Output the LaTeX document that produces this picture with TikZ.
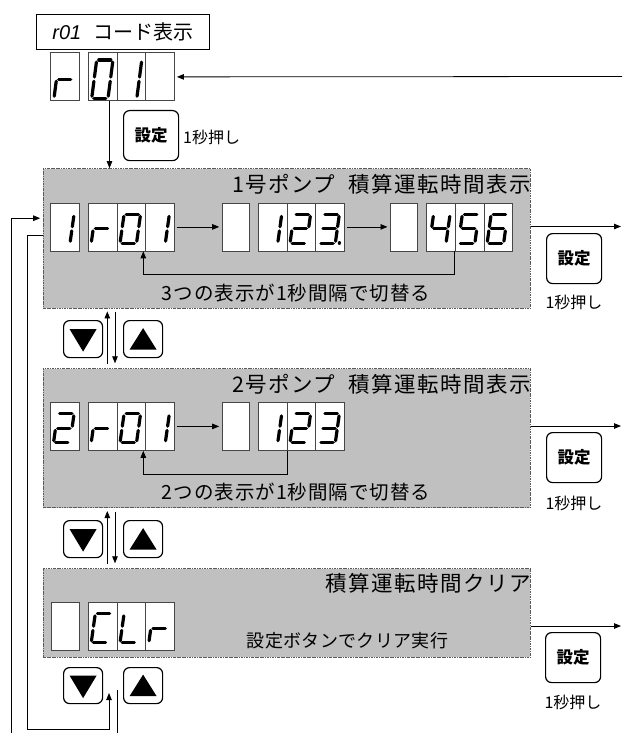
\documentclass[tikz,border=0pt]{standalone}
\usepackage{fontspec}
\setmainfont{Noto Sans CJK JP}
\newfontfamily\lat{Liberation Sans}
\usetikzlibrary{arrows.meta}

\definecolor{panelgray}{RGB}{192,192,192}
\definecolor{cellborder}{RGB}{70,70,70}
\definecolor{panelborder}{RGB}{90,90,90}

\tikzset{
  panel/.style={draw=panelborder, fill=panelgray, line width=0.7pt, dash pattern=on 2.5pt off 1pt on 0.7pt off 1pt, anchor=north west, inner sep=0pt, minimum width=487.3pt},
  cellbox/.style={draw=cellborder, fill=white, line width=0.8pt, anchor=north west, minimum width=28.8pt, minimum height=48pt, inner sep=0pt},
  blankbox/.style={cellbox, minimum width=26.8pt},
  segline/.style={line width=3.2pt, line cap=round, line join=round},
  arr/.style={-{Triangle[length=7pt,width=5.5pt]}, line width=0.8pt},
  plainline/.style={line width=0.8pt},
  keybtn/.style={draw, line width=1.2pt, rounded corners=6pt, anchor=north west, inner sep=0pt, fill=white, minimum width=39pt, minimum height=37pt},
  setbtn/.style={draw, line width=1.2pt, rounded corners=6pt, anchor=north west, inner sep=0pt, fill=white, minimum width=55pt, minimum height=50pt, font=\fontsize{16.5}{18}\selectfont\bfseries},
  title/.style={anchor=east, inner sep=0pt, font=\fontsize{21.5}{24}\selectfont\addfontfeature{LetterSpace=7}},
  note/.style={inner sep=0pt, font=\fontsize{19.5}{22}\selectfont\addfontfeature{LetterSpace=5}},
  small/.style={inner sep=0pt, font=\fontsize{16}{18}\selectfont},
  sgA/.style={insert path={(\sg,\sh)--({\sw-\sg},\sh)}},
  sgB/.style={insert path={(\sw,{\sh-\sg})--(\sw,{\sh/2+\sg})}},
  sgC/.style={insert path={(\sw,{\sh/2-\sg})--(\sw,\sg)}},
  sgD/.style={insert path={(\sg,0)--({\sw-\sg},0)}},
  sgE/.style={insert path={(0,\sg)--(0,{\sh/2-\sg})}},
  sgF/.style={insert path={(0,{\sh/2+\sg})--(0,{\sh-\sg})}},
  sgG/.style={insert path={(\sg,{\sh/2})--({\sw-\sg},{\sh/2})}},
  sgP/.style={insert path={({\sw+4},0.3) circle[radius=0.3]}},
}

\newcommand\segdigit[5]{%
  \begin{scope}[shift={#1}, xslant=#4, x=1pt, y=1pt]
    \def\sw{#2}\def\sh{#3}\def\sg{2.1}
    \foreach \s in {#5}{\edef\segtmp{\noexpand\draw[segline, sg\s];}\segtmp}
  \end{scope}}
\newcommand\bigdig[2]{\segdigit{([shift={(4,-3)}]#1.south west)}{16.3}{38.3}{0.13}{#2}}
\newcommand\smalldig[2]{\segdigit{([shift={(3.5,-8)}]#1.south west)}{16.5}{29}{0.14}{#2}}
\newcommand\downtri[1]{\fill ([shift={(-13.5,-10)}]#1.center) -- ([shift={(13.5,-10)}]#1.center) -- ([shift={(0,12.5)}]#1.center) -- cycle;}
\newcommand\uptri[1]{\fill ([shift={(-13.5,10.5)}]#1.center) -- ([shift={(13.5,10.5)}]#1.center) -- ([shift={(0,-11)}]#1.center) -- cycle;}

\begin{document}
\begin{tikzpicture}[x=1pt, y=-1pt]
\useasboundingbox (0,0) rectangle (622,733);

% ---------- top code display ----------
\node[draw, line width=0.8pt, anchor=north west, minimum width=173pt, minimum height=35pt, inner sep=0pt, font=\fontsize{20}{22}\selectfont] (lbl) at (36,14) {{\lat\itshape r01}\hspace{0.6em}コード表示};

\node[cellbox] (t1) at (50,52.5) {};
\node[cellbox] (t2) at (87.7,52.5) {};
\node[cellbox] (t3) at (116.5,52.5) {};
\node[cellbox] (t4) at (145.3,52.5) {};
\bigdig{t1}{E,G}
\bigdig{t2}{A,B,C,D,E,F}
\bigdig{t3}{B,C}

\coordinate (topin) at (622,76.5);
\draw[arr, shorten >=2pt] (topin) -- (t4.east);

\node[setbtn] (s0) at (123,110) {設定};
\node[small, anchor=west] (s0t) at (183,137) {1秒押し};

% ---------- panel 1 ----------
\node[panel, minimum height=139.5pt] (p1) at (42.7,168.2) {};
\draw[arr] ([xshift=7pt]t2.south) -- ([xshift=7pt]t2.south |- p1.north);
\node[title] (p1t) at (531,184.5) {1号ポンプ\hspace{0.6em}積算運転時間表示};

\node[cellbox] (p1d1) at (50,202.5) {};
\node[cellbox] (p1d2) at (87.7,202.5) {};
\node[cellbox] (p1d3) at (116.5,202.5) {};
\node[cellbox] (p1d4) at (145.3,202.5) {};
\node[blankbox] (p1d5) at (221.7,202.5) {};
\node[cellbox] (p1d6) at (257.7,202.5) {};
\node[cellbox] (p1d7) at (286.5,202.5) {};
\node[cellbox] (p1d8) at (315.3,202.5) {};
\node[blankbox] (p1d9) at (390,202.5) {};
\node[cellbox] (p1d10) at (426,202.5) {};
\node[cellbox] (p1d11) at (454.8,202.5) {};
\node[cellbox] (p1d12) at (483.6,202.5) {};
\smalldig{p1d1}{B,C}
\smalldig{p1d2}{E,G}
\smalldig{p1d3}{A,B,C,D,E,F}
\smalldig{p1d4}{B,C}
\smalldig{p1d6}{B,C}
\smalldig{p1d7}{A,B,G,E,D}
\smalldig{p1d8}{A,B,G,C,D,P}
\smalldig{p1d10}{F,G,B,C}
\smalldig{p1d11}{A,F,G,C,D}
\smalldig{p1d12}{A,F,G,E,C,D}

\draw[arr, shorten <=2.5pt, shorten >=2.5pt] (p1d4.east) -- (p1d5.west);
\draw[arr, shorten <=2.5pt, shorten >=2.5pt] (p1d8.east) -- (p1d9.west);
\draw[arr] (p1d11.south west) -- ++(0,23.5) -| ([xshift=-2pt]p1d4.south west);
\node[note] (p1n) at (296,293) {3つの表示が1秒間隔で切替る};

\coordinate (r1) at (621,226.5);
\draw[arr] (p1.east |- r1) -- (r1);
\node[setbtn] (s1) at (546,233) {設定};
\node[small] (s1t) at (574,302) {1秒押し};

% ---------- keys between 1 and 2 ----------
\node[keybtn] (k1d) at (63,320) {};
\node[keybtn] (k1u) at (123,320) {};
\downtri{k1d}
\uptri{k1u}

% ---------- panel 2 ----------
\node[panel, minimum height=139pt] (p2) at (42.7,368.3) {};
\coordinate (ux) at (107.3,0);
\coordinate (dx) at (115,0);
\draw[arr, shorten <=4pt, shorten >=3pt] (p2.north -| ux) -- (p1.south -| ux);
\draw[arr, shorten <=4pt, shorten >=5pt] (p1.south -| dx) -- (p2.north -| dx);
\node[title] (p2t) at (531,384.5) {2号ポンプ\hspace{0.6em}積算運転時間表示};

\node[cellbox] (p2d1) at (50,402) {};
\node[cellbox] (p2d2) at (87.7,402) {};
\node[cellbox] (p2d3) at (116.5,402) {};
\node[cellbox] (p2d4) at (145.3,402) {};
\node[blankbox] (p2d5) at (221.7,402) {};
\node[cellbox] (p2d6) at (257.7,402) {};
\node[cellbox] (p2d7) at (286.5,402) {};
\node[cellbox] (p2d8) at (315.3,402) {};
\smalldig{p2d1}{A,B,G,E,D}
\smalldig{p2d2}{E,G}
\smalldig{p2d3}{A,B,C,D,E,F}
\smalldig{p2d4}{B,C}
\smalldig{p2d6}{B,C}
\smalldig{p2d7}{A,B,G,E,D}
\smalldig{p2d8}{A,B,G,C,D}

\draw[arr, shorten <=2.5pt, shorten >=2.5pt] (p2d4.east) -- (p2d5.west);
\draw[arr] ([xshift=1.2pt]p2d7.south west) -- ++(0,24) -| ([xshift=-2pt]p2d4.south west);
\node[note] (p2n) at (296,492) {2つの表示が1秒間隔で切替る};

\coordinate (r2) at (621,426);
\draw[arr] (p2.east |- r2) -- (r2);
\node[setbtn] (s2) at (546,432) {設定};
\node[small] (s2t) at (574,503) {1秒押し};

% ---------- keys between 2 and 3 ----------
\node[keybtn] (k2d) at (63,520) {};
\node[keybtn] (k2u) at (123,520) {};
\downtri{k2d}
\uptri{k2u}

% ---------- panel 3 ----------
\node[panel, minimum height=88.4pt] (p3) at (42.7,568.3) {};
\draw[arr, shorten <=4pt, shorten >=3pt] (p3.north -| ux) -- (p2.south -| ux);
\draw[arr, shorten <=4pt, shorten >=5pt] (p2.south -| dx) -- (p3.north -| dx);
\node[title] (p3t) at (531,583.5) {積算運転時間クリア};

\node[cellbox, minimum width=28.3pt] (p3d1) at (50.5,602) {};
\node[cellbox] (p3d2) at (87.7,602) {};
\node[cellbox] (p3d3) at (116.5,602) {};
\node[cellbox] (p3d4) at (145.3,602) {};
\smalldig{p3d2}{A,F,E,D}
\smalldig{p3d3}{F,E,D}
\smalldig{p3d4}{E,G}
\node[inner sep=0pt, font=\fontsize{18}{20}\selectfont\addfontfeature{LetterSpace=2}] (p3n) at (347.5,641) {設定ボタンでクリア実行};

\coordinate (r3) at (621,626);
\draw[arr] (p3.east |- r3) -- (r3);
\node[setbtn] (s3) at (545,632) {設定};
\node[small] (s3t) at (573,702) {1秒押し};

% ---------- bottom keys ----------
\node[keybtn, minimum height=36pt] (k3d) at (63,667) {};
\node[keybtn, minimum height=36pt] (k3u) at (123,667) {};
\downtri{k3d}
\uptri{k3u}

% ---------- return lines ----------
\path (p1.north west) ++(0,50) coordinate (p1in);
\path (p1.north west) ++(0,67) coordinate (p1out);
\coordinate (bl) at (11.7,733);
\coordinate (lp) at (27,729);
\coordinate (bt) at (109,693);
\coordinate (bu) at (117,690);
\draw[arr, shorten >=2.5pt] (bl) |- (p1in);
\draw[arr] (p1out) -| (lp) -| (bt);
\draw[plainline] (bu) -- (bu |- bl);
\end{tikzpicture}
\end{document}
